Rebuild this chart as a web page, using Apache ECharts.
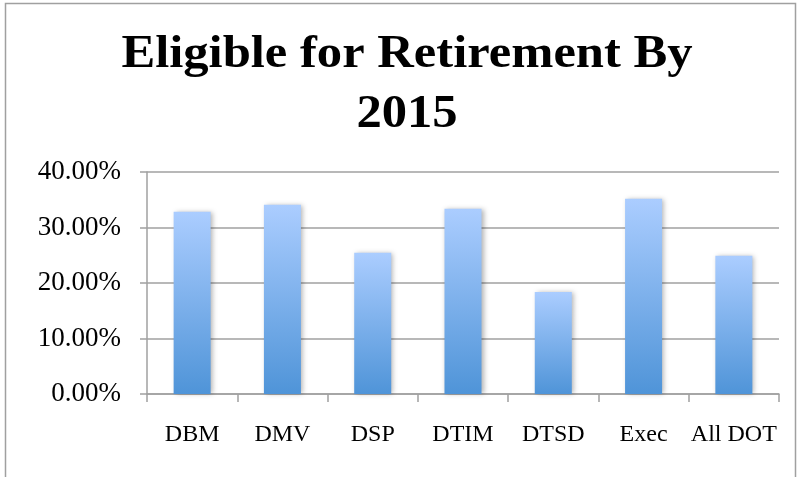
<!DOCTYPE html>
<html><head><meta charset="utf-8">
<script src="https://cdn.jsdelivr.net/npm/echarts@6/dist/echarts.min.js"></script>
<style>html,body{margin:0;padding:0;background:#fff}#c{width:798px;height:477px}</style>
</head><body><div id="c"></div>
<script>
const categories = ['DBM','DMV','DSP','DTIM','DTSD','Exec','All DOT'];
const values = [0.3285, 0.341, 0.2545, 0.334, 0.184, 0.352, 0.249];
const titleLines = ['Eligible for Retirement By', '2015'];

const chart = echarts.init(document.getElementById('c'), null, {renderer:'canvas'});
const titleFont = 'bold 47px "Liberation Serif"';
chart.setOption({
  animation:false,
  backgroundColor:'#fff',
  graphic:[
    {type:'rect', shape:{x:5.5,y:3.5,width:790,height:480}, style:{fill:null, stroke:'#a0a0a0', lineWidth:1.5}, silent:true},
    {type:'text', x:407, y:54.5, scaleX:1.077, style:{text:titleLines[0], font:titleFont, fill:'#000', align:'center', verticalAlign:'middle'}},
    {type:'text', x:407, y:114.5, scaleX:1.077, style:{text:titleLines[1], font:titleFont, fill:'#000', align:'center', verticalAlign:'middle'}}
  ],
  grid:{left:147, right:19, top:172, bottom:83},
  xAxis:{type:'category', data:categories, boundaryGap:true,
    axisLine:{lineStyle:{color:'#a0a0a0', width:1.5}},
    axisTick:{show:true, length:8, lineStyle:{color:'#a0a0a0', width:1.5}},
    axisLabel:{fontFamily:'Liberation Serif', fontSize:24, color:'#000', margin:29, interval:0}},
  yAxis:{type:'value', min:0, max:0.4, interval:0.1,
    axisLine:{show:true, lineStyle:{color:'#a0a0a0', width:1.5}},
    axisTick:{show:true, length:7, lineStyle:{color:'#a0a0a0', width:1.5}},
    splitLine:{lineStyle:{color:'#a0a0a0', width:1.5}},
    axisLabel:{fontFamily:'Liberation Serif', fontSize:27, color:'#000', margin:26, formatter:v=>(v*100).toFixed(2)+'%'}},
  series:[{type:'bar', data:values, barWidth:'41%',
    itemStyle:{color:new echarts.graphic.LinearGradient(0,0,0,1,[{offset:0,color:'#abcdff'},{offset:1,color:'#4f94d8'}]),
      shadowColor:'rgba(0,0,0,0.3)', shadowBlur:5, shadowOffsetX:2, shadowOffsetY:0}}]
});
</script></body></html>
